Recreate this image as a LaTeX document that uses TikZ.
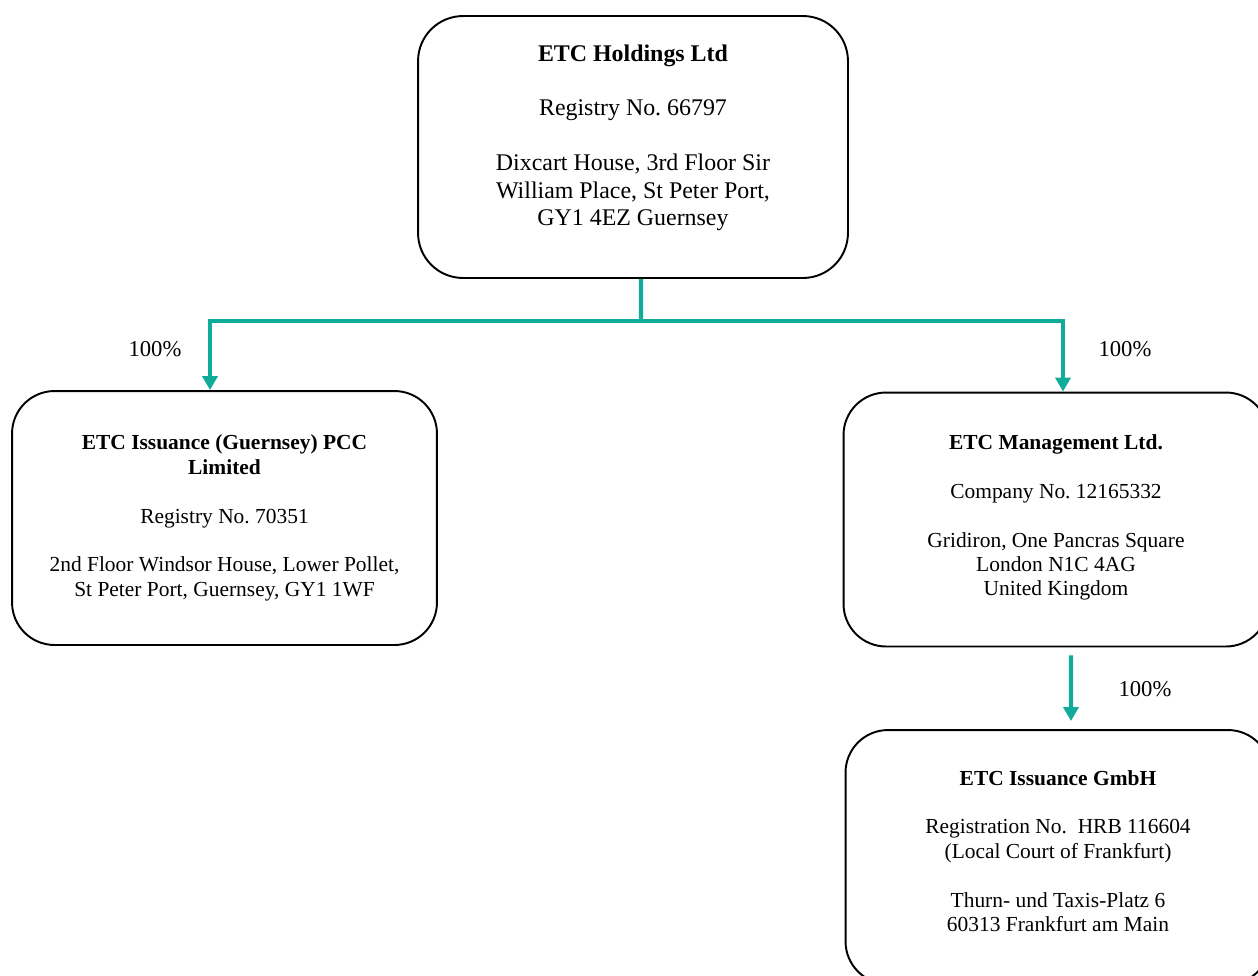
\documentclass[tikz,border=0pt]{standalone}
\usepackage{fontspec}
\setmainfont{Liberation Serif}
\usepackage{tikz}
\usetikzlibrary{arrows.meta}
\definecolor{etcteal}{RGB}{16,171,153}
\tikzstyle{bigbox} = [draw, fill=white, rectangle, rounded corners=0.9cm, line width=1.1pt,
    minimum width=8.6cm, minimum height=5.24cm, align=center,
    font=\fontsize{13.6}{15.6}\selectfont]
\tikzstyle{box} = [draw, fill=white, rectangle, rounded corners=0.85cm, line width=1.1pt,
    minimum width=8.5cm, minimum height=5.08cm, align=center,
    font=\fontsize{12.2}{13.9}\selectfont]
\tikzstyle{pct} = [font=\fontsize{12.9}{14}\selectfont]
\tikzstyle{link} = [draw=etcteal, line width=2.3pt]
\tikzstyle{arrow} = [link, -{Triangle[length=0.28cm, width=0.3cm]}]

\begin{document}
\frenchspacing
\begin{tikzpicture}[x=0.02cm, y=-0.02cm]
        \clip (0,0) rectangle (1258,975);

        \node [bigbox] (hold) at (633,147) {\textbf{ETC Holdings Ltd}\\[15.6pt]
            Registry No. 66797\\[15.6pt]
            Dixcart House, 3rd Floor Sir\\ William Place, St Peter Port,\\ GY1 4EZ Guernsey\\[-2pt]};
        \node [box] (pcc) at (224.5,518) {\textbf{ETC Issuance (Guernsey) PCC}\\ \textbf{Limited}\\[13.9pt]
            Registry No. 70351\\[13.9pt]
            2nd Floor Windsor House, Lower Pollet,\\ St Peter Port, Guernsey, GY1 1WF};
        \node [box] (mgmt) at (1056,519.5) {\textbf{ETC Management Ltd.}\\[13.9pt]
            Company No. 12165332\\[13.9pt]
            Gridiron, One Pancras Square\\ London N1C 4AG\\ United Kingdom\\[-9pt]};
        \node [box] (gmbh) at (1058,857) {\textbf{ETC Issuance GmbH}\\[13.9pt]
            Registration No.\ \ HRB 116604\\ (Local Court of Frankfurt)\\[13.9pt]
            Thurn- und Taxis-Platz 6\\ 60313 Frankfurt am Main\\[-7pt]};

        \node [pct] (p1) at (155,349) {100\%};
        \node [pct] (p2) at (1125,349) {100\%};
        \node [pct] (p3) at (1145,689) {100\%};

        \coordinate (split) at (641,321);

        \draw [link] ([xshift=0.16cm]hold.south) -- (split);
        \draw [arrow] (split) -| ([xshift=-0.29cm]pcc.north);
        \draw [arrow] (split) -| ([xshift=0.14cm]mgmt.north);
        \draw [arrow] ([xshift=0.3cm, yshift=-0.16cm]mgmt.south) -- ([xshift=0.26cm, yshift=0.16cm]gmbh.north);
    \end{tikzpicture}
\end{document}
